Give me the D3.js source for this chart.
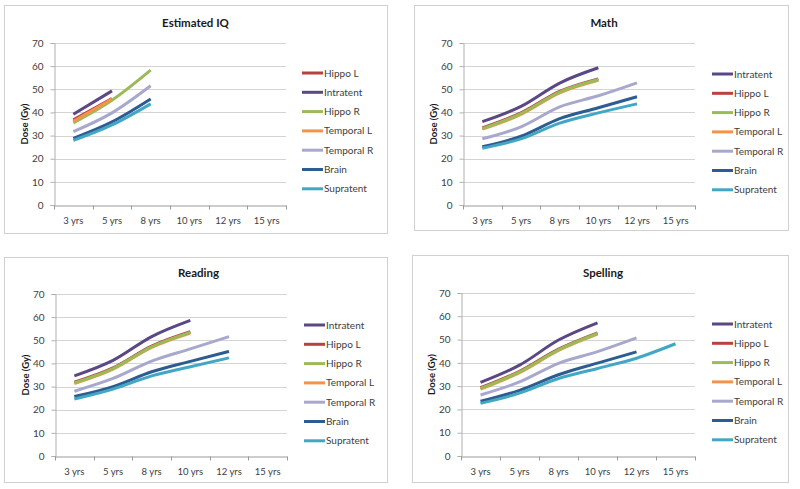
<!DOCTYPE html>
<html><head><meta charset="utf-8">
<script src="https://cdn.jsdelivr.net/npm/d3@7/dist/d3.min.js"></script>
<style>
html,body{margin:0;padding:0;background:#fff;}
svg{display:block;font-family:Lato,"Open Sans",sans-serif;}
</style></head>
<body><svg id="c" width="800" height="489"></svg>
<script>
// ---- data ----
const categories = ["3 yrs","5 yrs","8 yrs","10 yrs","12 yrs","15 yrs"];
const yTicks = [0,10,20,30,40,50,60,70];
const titles = ["Estimated IQ","Math","Reading","Spelling"];

const iqOrder = ["Hippo L","Intratent","Hippo R","Temporal L","Temporal R","Brain","Supratent"];
const otherOrder = ["Intratent","Hippo L","Hippo R","Temporal L","Temporal R","Brain","Supratent"];

// Estimated IQ
const iqHippoL    = [36.8, 46.0];
const iqIntratent = [39.2, 49.3];
const iqHippoR    = [35.5, 45.3, 58.3];
const iqTemporalL = [36.2, 45.8];
const iqTemporalR = [31.7, 39.8, 51.5];
const iqBrain     = [28.8, 35.9, 45.8];
const iqSupratent = [27.9, 34.6, 43.7];

// Math
const mathIntratent = [36.0, 42.6, 52.7, 59.3];
const mathHippoL    = [33.3, 39.8, 49.1, 54.5];
const mathHippoR    = [33.0, 39.5, 48.8, 54.2];
const mathTemporalL = [32.8, 39.2, 48.5, 53.9];
const mathTemporalR = [28.6, 33.8, 42.4, 47.2, 52.8];
const mathBrain     = [25.2, 29.7, 37.3, 42.0, 46.8];
const mathSupratent = [24.5, 28.6, 35.4, 39.8, 43.7];

// Reading
const readIntratent = [34.6, 41.3, 51.6, 58.6];
const readHippoL    = [31.9, 38.1, 47.5, 53.7];
const readHippoR    = [31.6, 37.8, 47.2, 53.4];
const readTemporalL = [31.3, 37.5, 46.9, 53.1];
const readTemporalR = [28.0, 33.5, 41.0, 46.3, 51.6];
const readBrain     = [25.7, 30.0, 36.4, 40.9, 45.2];
const readSupratent = [24.6, 28.9, 34.6, 38.6, 42.4];

// Spelling
const spellIntratent = [31.6, 39.0, 49.8, 57.2];
const spellHippoL    = [29.3, 36.4, 45.9, 52.9];
const spellHippoR    = [29.0, 36.1, 45.6, 52.6];
const spellTemporalL = [28.7, 35.8, 45.3, 52.3];
const spellTemporalR = [26.2, 31.8, 39.8, 44.8, 50.7];
const spellBrain     = [23.5, 28.2, 34.9, 39.9, 44.7];
const spellSupratent = [22.6, 27.0, 33.3, 37.6, 42.0, 48.2];

// ---- styling / layout ----
const colors = {
  "Hippo L":"#B9423F","Intratent":"#5A4786","Hippo R":"#9BBB59","Temporal L":"#F4924A",
  "Temporal R":"#A8A8CE","Brain":"#2D5C92","Supratent":"#42A7C4"
};
// drawing order (bottom to top) for the overlapping panels
const otherDraw = ["Temporal L","Hippo L","Hippo R","Intratent","Temporal R","Brain","Supratent"];

const panels = [
  {title:titles[0], order:iqOrder, draw:iqOrder, data:{"Hippo L":iqHippoL,"Intratent":iqIntratent,"Hippo R":iqHippoR,"Temporal L":iqTemporalL,"Temporal R":iqTemporalR,"Brain":iqBrain,"Supratent":iqSupratent},
   frame:[4,5,387,233], plot:[54,43,286,205], ylab:25, titleY:27, tickY:224, legX:302, legY:73},
  {title:titles[1], order:otherOrder, draw:otherDraw, data:{"Intratent":mathIntratent,"Hippo L":mathHippoL,"Hippo R":mathHippoR,"Temporal L":mathTemporalL,"Temporal R":mathTemporalR,"Brain":mathBrain,"Supratent":mathSupratent},
   frame:[414,5,788,230], plot:[463,43,695,205], ylab:434, titleY:27, tickY:224, legX:712, legY:74},
  {title:titles[2], order:otherOrder, draw:otherDraw, data:{"Intratent":readIntratent,"Hippo L":readHippoL,"Hippo R":readHippoR,"Temporal L":readTemporalL,"Temporal R":readTemporalR,"Brain":readBrain,"Supratent":readSupratent},
   frame:[4,257,387,482], plot:[55,294,287,456], ylab:26, titleY:277, tickY:474, legX:304, legY:325},
  {title:titles[3], order:otherOrder, draw:otherDraw, data:{"Intratent":spellIntratent,"Hippo L":spellHippoL,"Hippo R":spellHippoR,"Temporal L":spellTemporalL,"Temporal R":spellTemporalR,"Brain":spellBrain,"Supratent":spellSupratent},
   frame:[412,255,788,482], plot:[461,293,695,456], ylab:432, titleY:277, tickY:474, legX:712, legY:324}
];

const svg = d3.select("#c");

panels.forEach(p => {
  const g = svg.append("g");
  const [fx0,fy0,fx1,fy1] = p.frame;
  g.append("rect").attr("x",fx0+0.5).attr("y",fy0+0.5).attr("width",fx1-fx0).attr("height",fy1-fy0)
    .attr("fill","#fff").attr("stroke","#d0d0d0").attr("stroke-width",1);

  const [px0,py0,px1,py1] = p.plot;
  const x = d3.scaleBand().domain(categories).range([px0,px1]).padding(0);
  const y = d3.scaleLinear().domain([0,70]).range([py1,py0]);
  const cx = c => x(c) + x.bandwidth()/2;

  // title
  g.append("text").attr("x",(fx0+fx1)/2 + (p===panels[0]?0:3)).attr("y",p.titleY).attr("text-anchor","middle")
    .attr("font-size",11.5).attr("font-weight","bold").attr("fill","#1a1a1a").text(p.title);

  // gridlines
  g.selectAll(".grid").data(yTicks.filter(t=>t>0)).enter().append("line")
    .attr("x1",px0).attr("x2",px1).attr("y1",d=>Math.round(y(d))+0.5).attr("y2",d=>Math.round(y(d))+0.5)
    .attr("stroke","#d4d4d4").attr("stroke-width",1);

  // y axis
  const ya = g.append("g").attr("transform",`translate(${px0+0.5},0)`)
    .call(d3.axisLeft(y).tickValues(yTicks).tickSize(4).tickPadding(7).tickFormat(d3.format("d")));
  ya.select(".domain").attr("stroke","#b0b0b0");
  ya.selectAll(".tick line").attr("stroke","#b0b0b0");
  ya.selectAll(".tick text").attr("font-size",10).attr("fill","#404040").style("font-family","Lato, 'Open Sans', sans-serif");

  // x axis
  const xa = g.append("g").attr("transform",`translate(0,${Math.round(py1)+0.5})`)
    .call(d3.axisBottom(x).tickSize(0).tickPadding(12));
  xa.select(".domain").attr("stroke","#9a9a9a");
  xa.selectAll(".tick text").attr("font-size",9.5).attr("fill","#404040").style("font-family","Lato, 'Open Sans', sans-serif");
  const bounds = categories.map(c=>x(c)).concat([px1]);
  xa.selectAll(".btick").data(bounds).enter().append("line")
    .attr("x1",d=>Math.round(d)+0.5).attr("x2",d=>Math.round(d)+0.5).attr("y1",0).attr("y2",4)
    .attr("stroke","#9a9a9a");

  // y label
  g.append("text").attr("transform",`translate(${p.ylab+3},${(py0+py1)/2}) rotate(-90)`)
    .attr("text-anchor","middle").attr("font-size",9.5).attr("font-weight","bold").attr("fill","#1a1a1a")
    .text("Dose (Gy)");

  // lines
  const line = d3.line().x(d=>cx(d.c)).y(d=>y(d.v)).curve(d3.curveMonotoneX);
  p.draw.forEach(name => {
    const vals = p.data[name].map((v,i)=>({c:categories[i], v}));
    g.append("path").datum(vals).attr("d",line).attr("fill","none")
      .attr("stroke",colors[name]).attr("stroke-width",3).attr("stroke-linecap","butt").attr("stroke-linejoin","round");
  });

  // legend
  const lg = g.append("g");
  p.order.forEach((name,i) => {
    const ly = p.legY + i*19.3;
    lg.append("line").attr("x1",p.legX).attr("x2",p.legX+21).attr("y1",ly).attr("y2",ly)
      .attr("stroke",colors[name]).attr("stroke-width",3);
    lg.append("text").attr("x",p.legX+22).attr("y",ly+3.5).attr("font-size",10).attr("fill","#404040").text(name);
  });
});
</script>
</body></html>
